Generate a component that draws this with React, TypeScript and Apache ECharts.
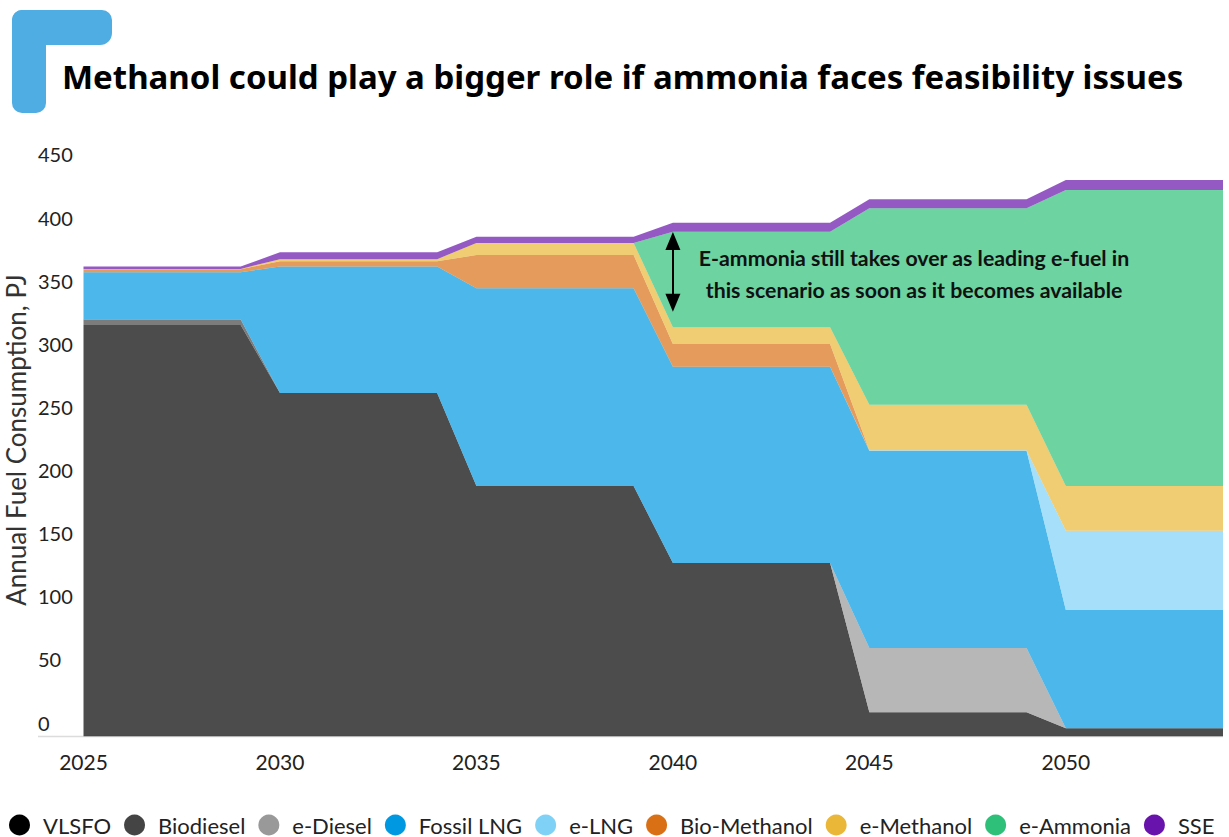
import React, { useEffect, useRef } from "react";
import * as echarts from "echarts";

const years = [
  "2025", "2026", "2027", "2028", "2029",
  "2030", "2031", "2032", "2033", "2034",
  "2035", "2036", "2037", "2038", "2039",
  "2040", "2041", "2042", "2043", "2044",
  "2045", "2046", "2047", "2048", "2049",
  "2050", "2051", "2052", "2053", "2054",
];

const seriesNames = ["VLSFO", "Biodiesel", "e-Diesel", "Fossil LNG", "e-LNG", "Bio-Methanol", "e-Methanol", "e-Ammonia", "SSE"];
const seriesColors = ["#000000", "#444444", "#999999", "#0098e1", "#80d1f6", "#da7015", "#eab738", "#2ec079", "#6813ab"];

const vlsfo = [
  326, 326, 326, 326, 326,
  272, 272, 272, 272, 272,
  198.4, 198.4, 198.4, 198.4, 198.4,
  137.5, 137.5, 137.5, 137.5, 137.5,
  19.2, 19.2, 19.2, 19.2, 19.2,
  6.5, 6.5, 6.5, 6.5, 6.5,
];
const biodiesel = [
  4.3, 4.3, 4.3, 4.3, 4.3,
  0, 0, 0, 0, 0,
  0, 0, 0, 0, 0,
  0, 0, 0, 0, 0,
  0, 0, 0, 0, 0,
  0, 0, 0, 0, 0,
];
const eDiesel = [
  0, 0, 0, 0, 0,
  0, 0, 0, 0, 0,
  0, 0, 0, 0, 0,
  0, 0, 0, 0, 0,
  50.9, 50.9, 50.9, 50.9, 50.9,
  0, 0, 0, 0, 0,
];
const fossilLng = [
  37.5, 37.5, 37.5, 37.5, 37.5,
  100.3, 100.3, 100.3, 100.3, 100.3,
  156.6, 156.6, 156.6, 156.6, 156.6,
  155.4, 155.4, 155.4, 155.4, 155.4,
  156.3, 156.3, 156.3, 156.3, 156.3,
  93.7, 93.7, 93.7, 93.7, 93.7,
];
const eLng = [
  0, 0, 0, 0, 0,
  0, 0, 0, 0, 0,
  0, 0, 0, 0, 0,
  0, 0, 0, 0, 0,
  0.4, 0.4, 0.4, 0.4, 0.4,
  62.8, 62.8, 62.8, 62.8, 62.8,
];
const bioMethanol = [
  2.3, 2.3, 2.3, 2.3, 2.3,
  4.2, 4.2, 4.2, 4.2, 4.2,
  26.4, 26.4, 26.4, 26.4, 26.4,
  18, 18, 18, 18, 18,
  0, 0, 0, 0, 0,
  0, 0, 0, 0, 0,
];
const eMethanol = [
  0.3, 0.3, 0.3, 0.3, 0.3,
  1.6, 1.6, 1.6, 1.6, 1.6,
  9.6, 9.6, 9.6, 9.6, 9.6,
  13.2, 13.2, 13.2, 13.2, 13.2,
  36, 36, 36, 36, 36,
  35.4, 35.4, 35.4, 35.4, 35.4,
];
const eAmmonia = [
  0, 0, 0, 0, 0,
  0, 0, 0, 0, 0,
  0, 0, 0, 0, 0,
  75.8, 75.8, 75.8, 75.8, 75.8,
  155.6, 155.6, 155.6, 155.6, 155.6,
  234.5, 234.5, 234.5, 234.5, 234.5,
];
const sse = [
  1.8, 1.8, 1.8, 1.8, 1.8,
  5.5, 5.5, 5.5, 5.5, 5.5,
  4.9, 4.9, 4.9, 4.9, 4.9,
  7.1, 7.1, 7.1, 7.1, 7.1,
  7.2, 7.2, 7.2, 7.2, 7.2,
  7.9, 7.9, 7.9, 7.9, 7.9,
];

const seriesValues = [vlsfo, biodiesel, eDiesel, fossilLng, eLng, bioMethanol, eMethanol, eAmmonia, sse];

const title = "Methanol could play a bigger role if ammonia faces feasibility issues";
const yAxisTitle = "Annual Fuel Consumption, PJ";
const annotationLines = [
  "E-ammonia still takes over as leading e-fuel in",
  "this scenario as soon as it becomes available",
];
// arrow position: just after 2040 (category index 15)
const arrowIndex = 15.1;
const arrowFrom = 392.5;
const arrowTo = 343.5;

const FONT = "Lato, 'Noto Sans', sans-serif";
const TITLE_FONT = "'Noto Sans', Lato, sans-serif";

export default function App() {
  const ref = useRef<HTMLDivElement>(null);

  useEffect(() => {
    if (!ref.current) return;
    const chart = echarts.init(ref.current, null, { renderer: "svg" });

    const series = seriesNames.map((name, i) => {
      const s: any = {
        name,
        type: "line",
        stack: "total",
        data: seriesValues[i],
        showSymbol: false,
        symbol: "circle",
        color: seriesColors[i],
        lineStyle: { width: 0, opacity: 0 },
        areaStyle: { opacity: 0.7, color: seriesColors[i] },
        emphasis: { disabled: true },
      };
      if (name === "e-Ammonia") {
        s.markLine = {
          silent: true,
          symbol: ["triangle", "triangle"],
          symbolSize: [15, 18],
          lineStyle: { color: "#000000", width: 2, type: "solid", opacity: 1 },
          label: { show: false },
          data: [[{ coord: [arrowIndex, arrowFrom] }, { coord: [arrowIndex, arrowTo] }]],
        };
      }
      return s;
    });

    chart.setOption({
      animation: false,
      backgroundColor: "#ffffff",
      textStyle: { fontFamily: FONT },
      grid: {
        left: 83.5,
        right: 6,
        top: 168.4,
        bottom: 100.5,
        containLabel: false,
        outerBoundsMode: "none",
      },
      legend: {
        show: true,
        left: 9,
        top: 814,
        padding: 0,
        icon: "circle",
        itemWidth: 21,
        itemHeight: 21,
        itemGap: 13,
        data: seriesNames,
        selectedMode: false,
        itemStyle: { borderWidth: 0 },
        textStyle: {
          fontFamily: FONT,
          fontSize: 22,
          color: "#222222",
          padding: [0, 0, 0, 8],
        },
      },
      xAxis: {
        type: "category",
        data: years,
        boundaryGap: false,
        axisLine: { show: false },
        axisTick: { show: false },
        splitLine: { show: false },
        axisLabel: {
          interval: 4,
          fontFamily: FONT,
          fontSize: 21,
          color: "#222222",
          margin: 14,
        },
      },
      yAxis: {
        type: "value",
        min: 0,
        max: 450,
        interval: 50,
        axisLine: { show: false },
        axisTick: { show: false },
        splitLine: { show: false },
        axisLabel: {
          fontFamily: FONT,
          fontSize: 20,
          color: "#222222",
          align: "left",
          margin: 45.5,
          verticalAlign: "bottom",
          lineHeight: 28,
        },
      },
      graphic: [
        {
          type: "rect",
          shape: { x: 12, y: 10, width: 100, height: 35, r: [10, 10, 12, 0] },
          style: { fill: "#4fade3" },
          z: 10,
        },
        {
          type: "rect",
          shape: { x: 12, y: 10, width: 34, height: 103, r: [10, 0, 10, 10] },
          style: { fill: "#4fade3" },
          z: 10,
        },
        {
          type: "text",
          x: 62,
          y: 76,
          style: {
            text: title,
            fontFamily: TITLE_FONT,
            fontWeight: "bold",
            fontSize: 33,
            fill: "#000000",
            textAlign: "left",
            textVerticalAlign: "middle",
          },
          z: 10,
        },
        {
          type: "text",
          x: 16,
          y: 440,
          rotation: Math.PI / 2,
          style: {
            text: yAxisTitle,
            fontFamily: FONT,
            fontSize: 26,
            fill: "#333333",
            textAlign: "center",
            textVerticalAlign: "middle",
          },
          z: 10,
        },
        {
          type: "line",
          shape: { x1: 38, y1: 736.5, x2: 1223, y2: 736.5 },
          style: { stroke: "#dcdcdc", lineWidth: 1.5 },
          z: 1,
        },
        {
          type: "text",
          x: 914,
          y: 274,
          style: {
            text: annotationLines.join("\n"),
            fontFamily: FONT,
            fontWeight: "bold",
            fontSize: 21.3,
            lineHeight: 32,
            fill: "#111111",
            textAlign: "center",
            textVerticalAlign: "middle",
          },
          z: 20,
        },
      ],
      series,
    });

    return () => chart.dispose();
  }, []);

  return (
    <div
      ref={ref}
      style={{ position: "fixed", left: 0, top: 0, width: 1229, height: 837 }}
    />
  );
}
